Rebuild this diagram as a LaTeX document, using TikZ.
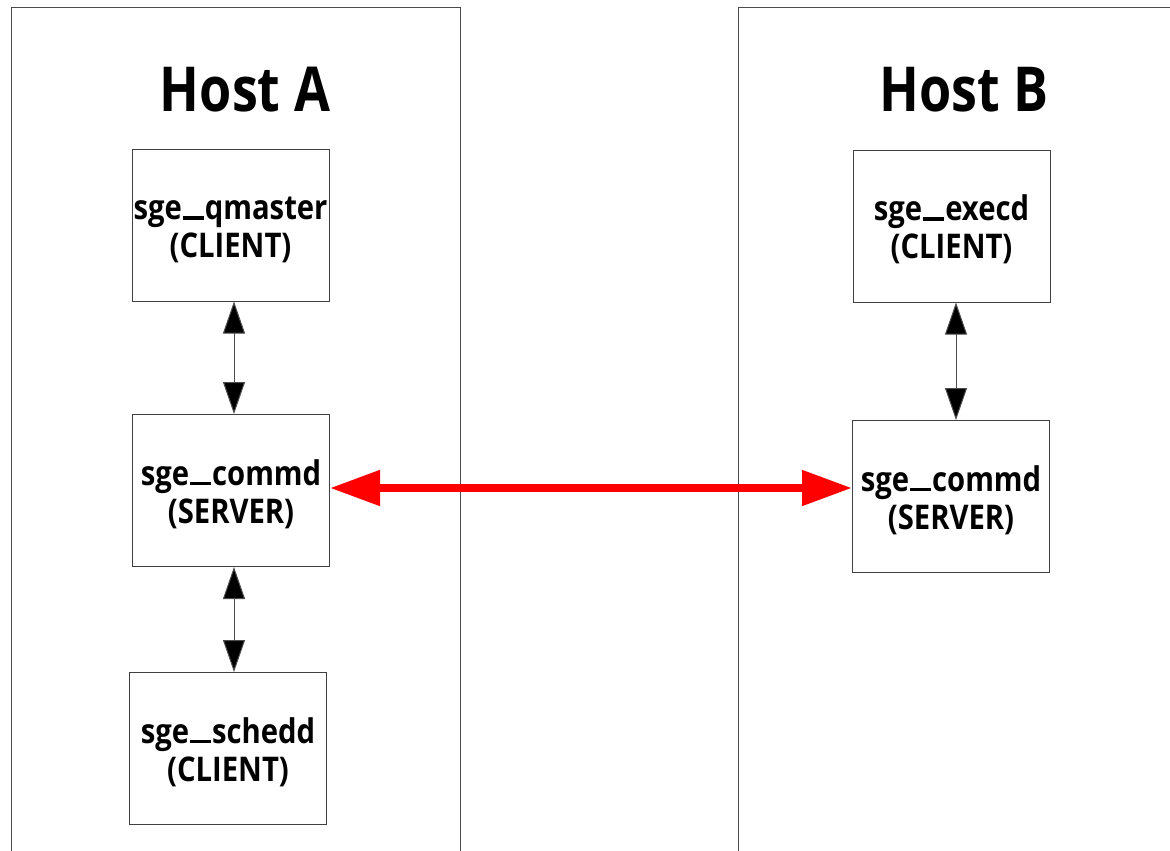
\documentclass[tikz,border=0pt]{standalone}
\usepackage{fontspec}
\setmainfont{Open Sans}
\newfontfamily\boxfont[FakeStretch=0.86]{Open Sans}
\newfontfamily\titlefont[FakeStretch=0.84]{Open Sans}
\usetikzlibrary{arrows.meta}
\newcommand{\usc}{\kern1pt\rule[0pt]{21pt}{3.5pt}\kern1pt}
\newcommand{\tst}{\rule{0pt}{33pt}}
\tikzset{
  host/.style={draw=black!70, line width=1pt},
  proc/.style={draw=black!75, line width=1pt, minimum width=197pt, minimum height=152pt, align=center, font=\boxfont\bfseries\fontsize{34}{38}\selectfont, inner sep=0pt},
  title/.style={font=\titlefont\bfseries\fontsize{62}{70}\selectfont, inner sep=0pt},
  link/.style={draw=black!70, line width=1pt, {Triangle[length=32pt,width=22pt,fill=black]}-{Triangle[length=32pt,width=22pt,fill=black]}},
  net/.style={draw=red, line width=8pt, {Triangle[length=50pt,width=34pt]}-{Triangle[length=50pt,width=34pt]}}
}
\begin{document}
\begin{tikzpicture}[x=1pt,y=-1pt]
\useasboundingbox (0,0) rectangle (1170,851);
\draw[host] (11,860) -- (11,8) -- (460,8) -- (460,860);
\draw[host] (738,860) -- (738,8) -- (1180,8);
\node[title] (ta) at (245,90) {Host A};
\node[title] (tb) at (964,90) {Host B};
\node[proc] (qm) at (230.5,225) {\tst sge\usc qmaster\\(CLIENT)};
\node[proc] (ca) at (231,490.5) {\tst sge\usc commd\\(SERVER)};
\node[proc] (sd) at (228,748.5) {\tst sge\usc schedd\\(CLIENT)};
\node[proc] (ex) at (951.5,226) {\tst sge\usc execd\\(CLIENT)};
\node[proc] (cb) at (951,496.5) {\tst sge\usc commd\\(SERVER)};
\draw[link] (qm.south -| 234,0) -- (ca.north -| 234,0);
\draw[link] (ca.south -| 234,0) -- (sd.north -| 234,0);
\draw[link] (ex.south -| 956,0) -- (cb.north -| 956,0);
\draw[net] (ca.east |- 0,488) -- (cb.west |- 0,488);
\end{tikzpicture}
\end{document}
